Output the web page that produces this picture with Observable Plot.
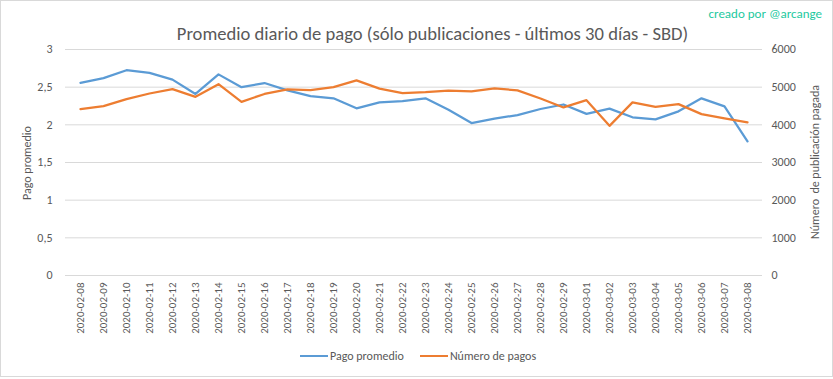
<!DOCTYPE html>
<html>
<head>
<meta charset="utf-8">
<script src="https://cdn.jsdelivr.net/npm/d3@7"></script>
<script src="https://cdn.jsdelivr.net/npm/@observablehq/plot@0.6"></script>
<style>
  html, body { margin: 0; padding: 0; background: #fff; }
  #wrap { position: relative; width: 833px; height: 379px; font-family: Carlito, Calibri, Lato, sans-serif; color: #595959; }
  #frame { position: absolute; left: 0; top: 0; width: 833px; height: 377px; box-sizing: border-box; border: 1px solid #d9d9d9; pointer-events: none; }
  #chart { position: absolute; left: 0; top: 0; }
  #title { position: absolute; left: 0; width: 865px; top: 22px; text-align: center; font-size: 18.6px; color: #595959; white-space: nowrap; }
  #credit { position: absolute; right: 11px; top: 6px; font-size: 13px; color: #1dc9a0; }
  .ytitle { position: absolute; font-size: 12px; color: #595959; white-space: nowrap; transform-origin: center center; }
  #ylt { left: 27px; top: 163px; transform: translate(-50%, -50%) rotate(-90deg); }
  #yrt { left: 815px; top: 162px; transform: translate(-50%, -50%) rotate(-90deg); }
  #legend { position: absolute; top: 349px; left: 300px; font-size: 12px; display: flex; align-items: center; white-space: nowrap; }
  .sw { display: inline-block; width: 28px; height: 0; border-top: 2.5px solid; margin-right: 2px; }
</style>
</head>
<body>
<div id="wrap">
  <div id="chart"></div>
  <div id="title">Promedio diario de pago (sólo publicaciones - últimos 30 días - SBD)</div>
  <div id="credit">creado por @arcange</div>
  <div class="ytitle" id="ylt">Pago promedio</div>
  <div class="ytitle" id="yrt">Número&nbsp; de publicación pagada</div>
  <div id="legend"></div>
  <div id="frame"></div>
</div>
<script>
const dates = ["2020-02-08","2020-02-09","2020-02-10","2020-02-11","2020-02-12","2020-02-13","2020-02-14","2020-02-15","2020-02-16","2020-02-17","2020-02-18","2020-02-19","2020-02-20","2020-02-21","2020-02-22","2020-02-23","2020-02-24","2020-02-25","2020-02-26","2020-02-27","2020-02-28","2020-02-29","2020-03-01","2020-03-02","2020-03-03","2020-03-04","2020-03-05","2020-03-06","2020-03-07","2020-03-08"];
const pagoPromedio = [2.557, 2.62, 2.725, 2.69, 2.60, 2.41, 2.67, 2.50, 2.555, 2.458, 2.38, 2.352, 2.219, 2.298, 2.314, 2.352, 2.20, 2.024, 2.082, 2.13, 2.21, 2.27, 2.146, 2.215, 2.10, 2.073, 2.179, 2.352, 2.245, 1.781];
const numeroPagos = [4416, 4496, 4682, 4832, 4947, 4743, 5080, 4610, 4820, 4942, 4924, 5000, 5180, 4960, 4844, 4870, 4910, 4888, 4968, 4915, 4700, 4462, 4655, 3973, 4597, 4477, 4549, 4284, 4170, 4066];
const leftTicks = [0, 0.5, 1, 1.5, 2, 2.5, 3];
const rightTicks = [0, 1000, 2000, 3000, 4000, 5000, 6000];
const seriesNames = ["Pago promedio", "Número de pagos"];
const colors = ["#5B9BD5", "#ED7D31"];
const ratio = 2000; // secondary axis 6000 ↔ primary 3

const data = dates.map((d, i) => ({date: d, pago: pagoPromedio[i], n: numeroPagos[i]}));

const chart = Plot.plot({
  width: 833,
  height: 379,
  marginLeft: 65,
  marginRight: 71,
  marginTop: 49,
  marginBottom: 104,
  style: {fontFamily: "Carlito, Calibri, Lato, sans-serif", fontSize: "11px", color: "#595959", background: "transparent"},
  x: {type: "point", domain: dates, label: null},
  y: {domain: [0, 3], label: null},
  marks: [
    Plot.gridY(leftTicks, {stroke: "#d9d9d9", strokeOpacity: 1}),
    Plot.axisY(leftTicks, {anchor: "left", tickSize: 0, tickPadding: 13, fontSize: 12, label: null, tickFormat: d => String(d).replace(".", ",")}),
    Plot.axisY(rightTicks.map(v => v / ratio), {anchor: "right", tickSize: 0, tickPadding: 9, fontSize: 12, label: null, tickFormat: d => String(Math.round(d * ratio))}),
    Plot.axisX({tickRotate: -90, tickSize: 0, tickPadding: 7, label: null}),
    Plot.lineY(data, {x: "date", y: "pago", stroke: colors[0], strokeWidth: 2.25}),
    Plot.lineY(data, {x: "date", y: d => d.n / ratio, stroke: colors[1], strokeWidth: 2.25})
  ]
});
document.getElementById("chart").appendChild(chart);

const legend = document.getElementById("legend");
seriesNames.forEach((name, i) => {
  const item = document.createElement("span");
  item.style.display = "inline-flex";
  item.style.alignItems = "center";
  item.style.marginRight = i === 0 ? "16px" : "0";
  const sw = document.createElement("span");
  sw.className = "sw";
  sw.style.borderTopColor = colors[i];
  item.appendChild(sw);
  item.appendChild(document.createTextNode(name));
  legend.appendChild(item);
});
</script>
</body>
</html>
